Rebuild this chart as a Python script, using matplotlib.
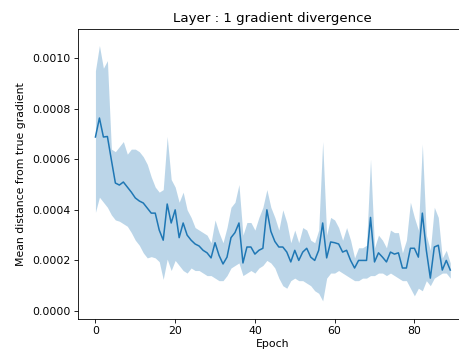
import matplotlib
matplotlib.use("Agg")
import matplotlib.pyplot as plt
import numpy as np

epochs = list(range(90))

mean_dist = [
    0.000688, 0.000763, 0.000688, 0.000690, 0.000597, 0.000506, 0.000498, 0.000510, 0.000490, 0.000470,
    0.000447, 0.000435, 0.000427, 0.000407, 0.000387, 0.000387, 0.000320, 0.000280, 0.000423, 0.000348,
    0.000400, 0.000290, 0.000348, 0.000300, 0.000280, 0.000265, 0.000257, 0.000240, 0.000230, 0.000210,
    0.000270, 0.000220, 0.000186, 0.000213, 0.000290, 0.000310, 0.000348, 0.000190, 0.000253, 0.000253,
    0.000225, 0.000240, 0.000248, 0.000400, 0.000315, 0.000275, 0.000253, 0.000253, 0.000233, 0.000194,
    0.000240, 0.000200, 0.000233, 0.000248, 0.000213, 0.000200, 0.000240, 0.000348, 0.000210, 0.000273,
    0.000270, 0.000265, 0.000233, 0.000240, 0.000200, 0.000170, 0.000200, 0.000200, 0.000200, 0.000370,
    0.000194, 0.000230, 0.000213, 0.000194, 0.000233, 0.000225, 0.000230, 0.000170, 0.000170, 0.000248,
    0.000248, 0.000213, 0.000387, 0.000240, 0.000130, 0.000253, 0.000260, 0.000162, 0.000200, 0.000162,
]

upper_dist = [
    0.000950, 0.001050, 0.000960, 0.000990, 0.000640, 0.000630, 0.000650, 0.000670, 0.000620, 0.000640,
    0.000640, 0.000630, 0.000610, 0.000580, 0.000530, 0.000490, 0.000470, 0.000480, 0.000690, 0.000520,
    0.000490, 0.000430, 0.000470, 0.000400, 0.000370, 0.000330, 0.000320, 0.000310, 0.000300, 0.000270,
    0.000360, 0.000310, 0.000270, 0.000330, 0.000410, 0.000430, 0.000500, 0.000300, 0.000350, 0.000350,
    0.000320, 0.000370, 0.000410, 0.000480, 0.000410, 0.000370, 0.000320, 0.000400, 0.000350, 0.000270,
    0.000320, 0.000270, 0.000330, 0.000320, 0.000280, 0.000270, 0.000320, 0.000670, 0.000300, 0.000370,
    0.000360, 0.000330, 0.000280, 0.000330, 0.000280, 0.000210, 0.000250, 0.000250, 0.000260, 0.000600,
    0.000250, 0.000300, 0.000280, 0.000250, 0.000320, 0.000310, 0.000310, 0.000230, 0.000280, 0.000430,
    0.000370, 0.000320, 0.000660, 0.000300, 0.000240, 0.000410, 0.000370, 0.000210, 0.000240, 0.000190,
]

lower_dist = [
    0.000390, 0.000450, 0.000430, 0.000410, 0.000380, 0.000360, 0.000355, 0.000345, 0.000335, 0.000310,
    0.000280, 0.000260, 0.000230, 0.000210, 0.000215, 0.000210, 0.000195, 0.000125, 0.000205, 0.000160,
    0.000200, 0.000180, 0.000160, 0.000150, 0.000170, 0.000160, 0.000160, 0.000150, 0.000140, 0.000140,
    0.000130, 0.000120, 0.000120, 0.000140, 0.000170, 0.000180, 0.000190, 0.000140, 0.000150, 0.000160,
    0.000150, 0.000170, 0.000180, 0.000200, 0.000190, 0.000170, 0.000130, 0.000100, 0.000090, 0.000120,
    0.000130, 0.000120, 0.000120, 0.000110, 0.000100, 0.000080, 0.000070, 0.000040, 0.000130, 0.000150,
    0.000150, 0.000160, 0.000150, 0.000140, 0.000130, 0.000120, 0.000120, 0.000130, 0.000130, 0.000140,
    0.000140, 0.000150, 0.000150, 0.000140, 0.000150, 0.000140, 0.000130, 0.000120, 0.000120, 0.000090,
    0.000060, 0.000090, 0.000080, 0.000120, 0.000100, 0.000130, 0.000140, 0.000150, 0.000150, 0.000130,
]

title_text = "Layer : 1 gradient divergence"
x_label = "Epoch"
y_label = "Mean distance from true gradient"

fig = plt.figure(figsize=(4.6, 3.56), dpi=100)
ax = fig.add_axes([77.7 / 460, 37 / 356, (468 - 77.7) / 460, (319 - 29) / 356])

color = "#1f77b4"
ax.fill_between(epochs, lower_dist, upper_dist, color=color, alpha=0.3, linewidth=0)
ax.plot(epochs, mean_dist, color=color, linewidth=1.1)

ax.set_xlim(-4.45, 93.45)
ax.set_ylim(-0.0000316, 0.001115)
ax.set_xticks([0, 20, 40, 60, 80])
ax.set_yticks([0.0, 0.0002, 0.0004, 0.0006, 0.0008, 0.0010])
ax.set_yticklabels(["0.0000", "0.0002", "0.0004", "0.0006", "0.0008", "0.0010"])

ax.tick_params(labelsize=7.8, length=2.8, width=0.6, pad=2.5)
for s in ax.spines.values():
    s.set_linewidth(0.6)

ax.set_title(title_text, fontsize=9.6, pad=5)
ax.set_xlabel(x_label, fontsize=7.8, labelpad=2)
ax.set_ylabel(y_label, fontsize=7.8, labelpad=4)

fig.savefig("out.png", dpi=100)
